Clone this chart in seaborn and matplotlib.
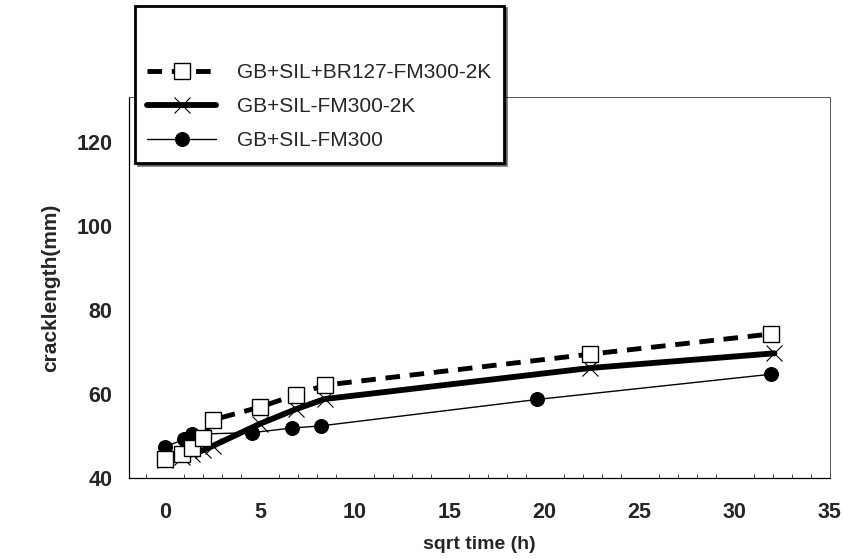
import pandas as pd
import matplotlib
matplotlib.use("Agg")
import matplotlib.pyplot as plt
import seaborn as sns

# sqrt time (h) and crack length (mm)
x_br127 = [0, 0.9, 1.4, 2.0, 2.5, 5.0, 6.9, 8.4, 22.4, 31.9]
y_br127 = [44.5, 45.8, 47.2, 49.6, 53.8, 56.9, 59.8, 62.1, 69.5, 74.3]

x_2k = [0, 0.9, 1.4, 2.0, 2.5, 5.0, 6.9, 8.4, 22.4, 32.1]
y_2k = [44.3, 45.0, 45.6, 46.6, 47.6, 52.9, 56.4, 58.8, 66.2, 69.7]

x_fm300 = [0, 1.0, 1.4, 4.6, 6.7, 8.2, 19.6, 31.9]
y_fm300 = [47.4, 49.2, 50.4, 50.8, 51.9, 52.4, 58.7, 64.7]

labels = ["GB+SIL+BR127-FM300-2K", "GB+SIL-FM300-2K", "GB+SIL-FM300"]

sns.set_style("white")
plt.rcParams['font.family'] = ['Liberation Sans', 'DejaVu Sans']

fig = plt.figure(figsize=(8.43, 5.59), dpi=100)
ax = fig.add_axes([0.153, 0.145, 0.831, 0.681])

df1 = pd.DataFrame({'x': x_br127, 'y': y_br127})
df2 = pd.DataFrame({'x': x_2k, 'y': y_2k})
df3 = pd.DataFrame({'x': x_fm300, 'y': y_fm300})

sns.lineplot(data=df2, x='x', y='y', ax=ax, sort=False, color='black',
             linewidth=4.2, marker='x', markersize=11, markeredgewidth=0.8,
             markeredgecolor='black', label=labels[1], zorder=2)
sns.lineplot(data=df3, x='x', y='y', ax=ax, sort=False, color='black',
             linewidth=1.0, marker='o', markersize=10, markeredgecolor='black',
             markerfacecolor='black', label=labels[2], zorder=3)
sns.lineplot(data=df1, x='x', y='y', ax=ax, sort=False, color='black',
             linewidth=3.5, linestyle=(0, (3, 2)), marker='s', markersize=11.5,
             markerfacecolor='white', markeredgecolor='black',
             markeredgewidth=1.0, label=labels[0], zorder=4)

ax.set_xlim(-1.9, 35)
ax.set_ylim(40, 130.7)
ax.set_xticks(range(0, 36, 5))
ax.set_xticks(range(-1, 36, 1), minor=True)
ax.set_yticks(range(40, 121, 20))
ax.tick_params(axis='both', which='major', direction='in', length=5,
               width=0.8, labelsize=15.5)
ax.tick_params(axis='x', which='major', pad=17)
ax.tick_params(axis='y', which='major', pad=12)
ax.tick_params(axis='x', which='minor', direction='in', length=3, width=0.6,
               bottom=True)
for lab in ax.get_xticklabels() + ax.get_yticklabels():
    lab.set_fontweight('bold')

for side in ['left', 'bottom']:
    ax.spines[side].set_color('black')
    ax.spines[side].set_linewidth(0.9)
for side in ['top', 'right']:
    ax.spines[side].set_color('#555555')
    ax.spines[side].set_linewidth(0.7)
    ax.spines[side].set_linestyle((0, (4, 1)))

ax.set_xlabel("sqrt time (h)", fontsize=14, fontweight='bold', labelpad=10)
ax.set_ylabel("cracklength(mm)", fontsize=15, fontweight='bold', labelpad=12)

handles, labs = ax.get_legend_handles_labels()
order = [labs.index(l) for l in labels]
leg = ax.legend([handles[i] for i in order], [labs[i] for i in order],
                loc='upper left', bbox_to_anchor=(0.16, 0.99),
                bbox_transform=fig.transFigure, frameon=True, fancybox=False,
                fontsize=15, handlelength=3.3, handletextpad=1.0,
                borderpad=0.6, labelspacing=0.72, borderaxespad=0,
                title=' ', title_fontsize=22,
                shadow={'color': 'black', 'ox': 2, 'oy': -2})
leg.get_frame().set_edgecolor('black')
leg.get_frame().set_linewidth(2.0)
leg.set_zorder(10)

fig.savefig("out.png", dpi=100)
